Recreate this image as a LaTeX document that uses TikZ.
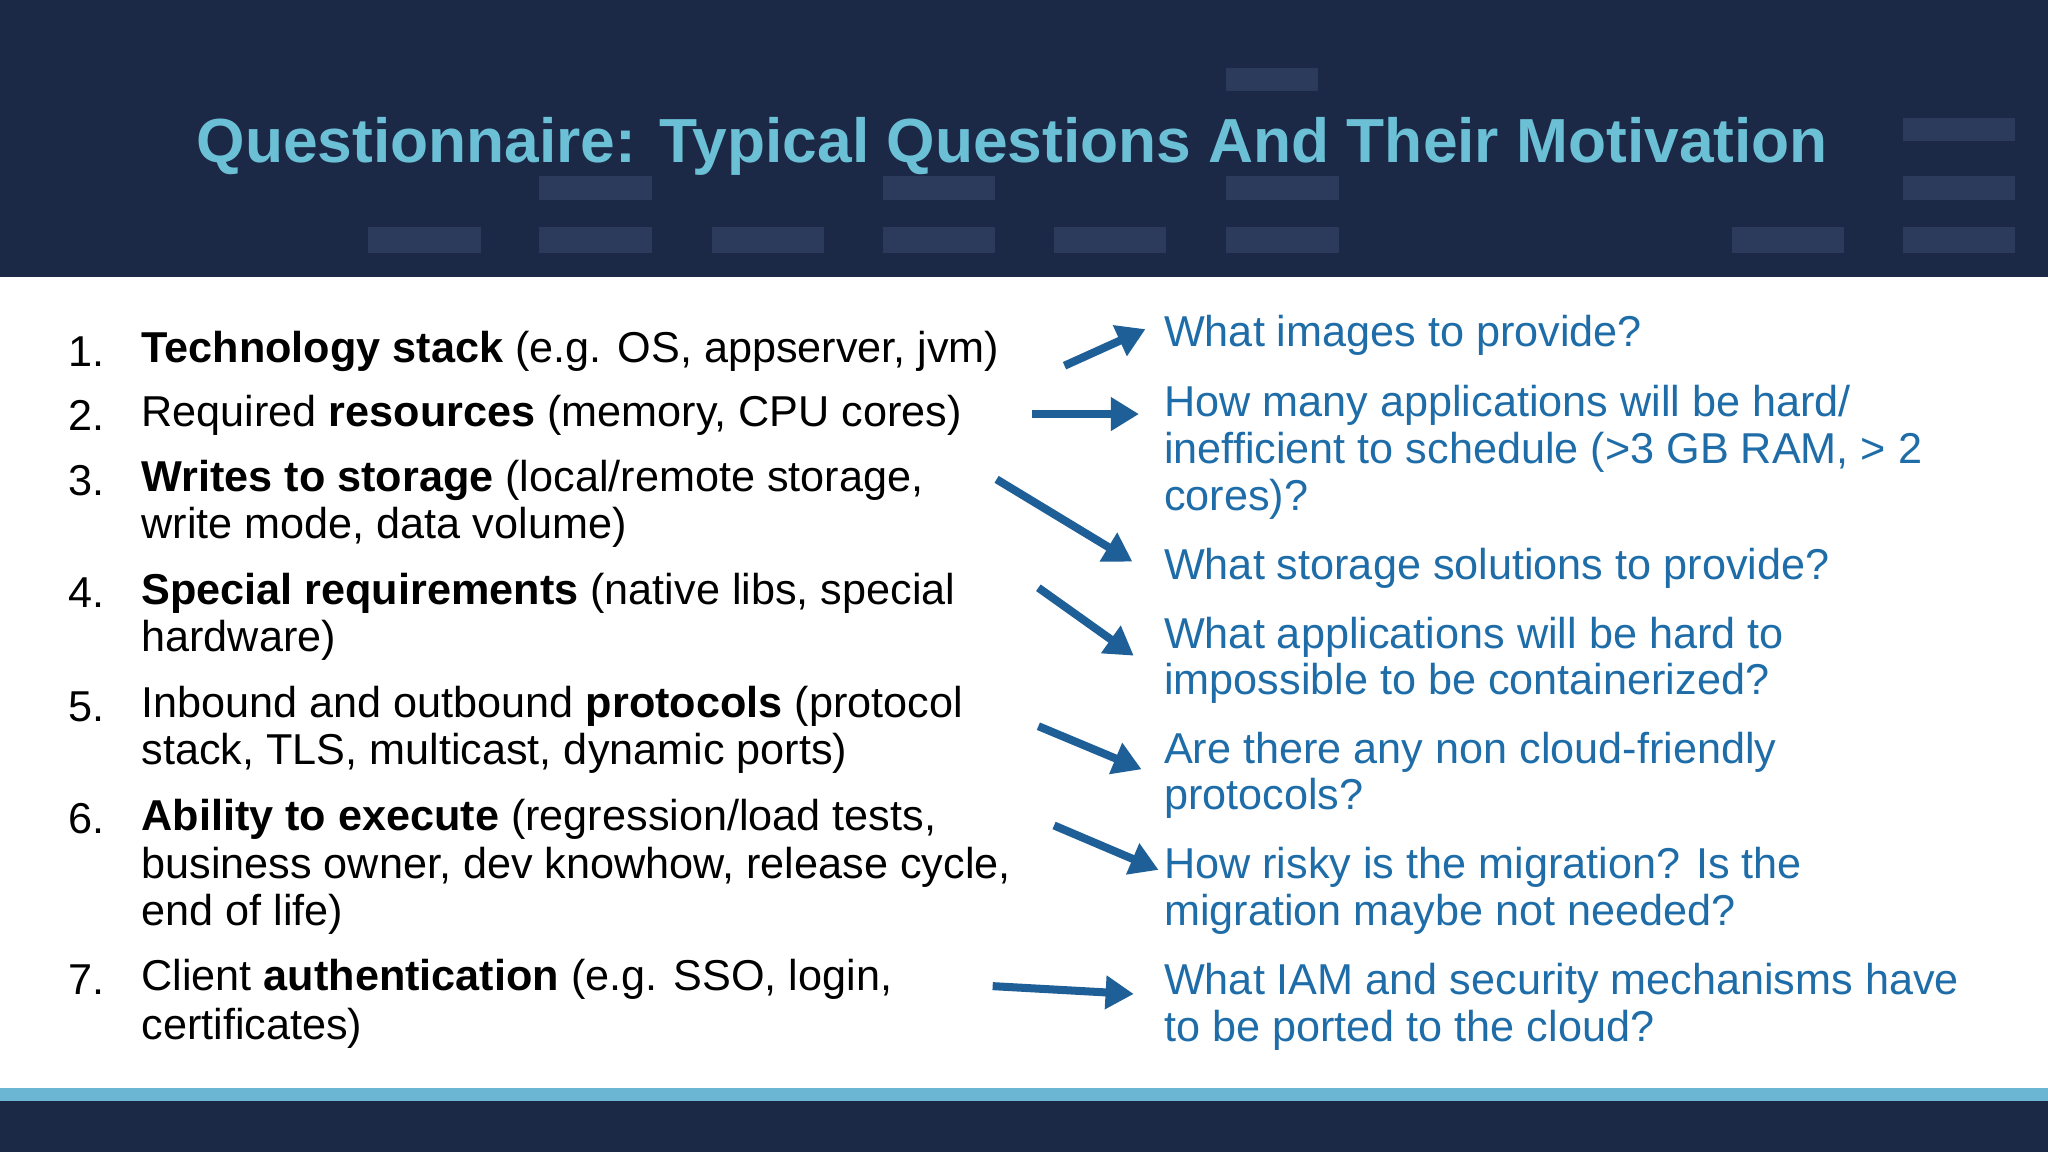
\documentclass[tikz,border=0pt]{standalone}
\usepackage{fontspec}
\setmainfont{Liberation Sans}
\usetikzlibrary{arrows.meta}
\definecolor{navy}{HTML}{1B2846}
\definecolor{navyl}{HTML}{2C3B5C}
\definecolor{ttl}{HTML}{6CC0D6}
\definecolor{band}{HTML}{6AB6D3}
\definecolor{rtxt}{HTML}{1F6DA8}
\definecolor{arr}{HTML}{1E5F98}
\begin{document}
\begin{tikzpicture}[x=0.65pt,y=-0.65pt,
  lt/.style={anchor=west,inner sep=0,font=\fontsize{21.5}{24}\selectfont,text=black},
  rt/.style={anchor=west,inner sep=0,font=\fontsize{21.5}{24}\selectfont,text=rtxt},
  ar/.style={draw=arr,line width=4pt,-{Triangle[length=14pt,width=16pt]}},
  deco/.style={fill=navyl,draw=none}]
\useasboundingbox (0,0) rectangle (1568,882);
\fill[white] (0,0) rectangle (1568,882);
\fill[navy] (0,0) rectangle (1568,212);
\foreach \x in {282,413,545,676,807,939,1326,1457}{\fill[deco] (\x,174) rectangle ++(86,20);}
\foreach \x in {413,676,939}{\fill[deco] (\x,135) rectangle ++(86,18);}
\foreach \x in {939}{\fill[deco] (\x,52) rectangle ++(70,18);}
\fill[deco] (1457,90) rectangle ++(86,18);
\fill[deco] (1457,135) rectangle ++(86,18);
\node[anchor=center,font=\fontsize{31}{34}\selectfont\bfseries,text=ttl] (title) at (775,112) {Questionnaire: Typical Questions And Their Motivation};
\fill[band] (0,833) rectangle (1568,843);
\fill[navy] (0,843) rectangle (1568,882);
% left
\foreach \n/\y in {1/269,2/318,3/368,4/454,5/541,6/627,7/750}{\node[lt] (n\n) at (52,\y) {\n.};}
\node[lt] (l1) at (108,269) {\textbf{Technology stack} (e.g. OS, appserver, jvm)};
\node[lt] (l2) at (108,318) {Required \textbf{resources} (memory, CPU cores)};
\node[lt] (l3a) at (108,368) {\textbf{Writes to storage} (local/remote storage,};
\node[lt] (l3b) at (108,404) {write mode, data volume)};
\node[lt] (l4a) at (108,454) {\textbf{Special requirements} (native libs, special};
\node[lt] (l4b) at (108,490) {hardware)};
\node[lt] (l5a) at (108,541) {Inbound and outbound \textbf{protocols} (protocol};
\node[lt] (l5b) at (108,577) {stack, TLS, multicast, dynamic ports)};
\node[lt] (l6a) at (108,627) {\textbf{Ability to execute} (regression/load tests,};
\node[lt] (l6b) at (108,664) {business owner, dev knowhow, release cycle,};
\node[lt] (l6c) at (108,700) {end of life)};
\node[lt] (l7a) at (108,750) {Client \textbf{authentication} (e.g. SSO, login,};
\node[lt] (l7b) at (108,787) {certificates)};
% right
\node[rt] (r1) at (891,257) {What images to provide?};
\node[rt] (r2a) at (891,310) {How many applications will be hard/};
\node[rt] (r2b) at (891,346) {inefficient to schedule (>3 GB RAM, > 2};
\node[rt] (r2c) at (891,382) {cores)?};
\node[rt] (r3) at (891,435) {What storage solutions to provide?};
\node[rt] (r4a) at (891,488) {What applications will be hard to};
\node[rt] (r4b) at (891,523) {impossible to be containerized?};
\node[rt] (r5a) at (891,576) {Are there any non cloud-friendly};
\node[rt] (r5b) at (891,611) {protocols?};
\node[rt] (r6a) at (891,664) {How risky is the migration? Is the};
\node[rt] (r6b) at (891,700) {migration maybe not needed?};
\node[rt] (r7a) at (891,753) {What IAM and security mechanisms have};
\node[rt] (r7b) at (891,789) {to be ported to the cloud?};
% arrows
\coordinate (s1) at (815,280); \coordinate (e1) at (877,252);
\coordinate (s2) at (790,317); \coordinate (e2) at (872,317);
\coordinate (s3) at (763,367); \coordinate (e3) at (867,430);
\coordinate (s4) at (795,450); \coordinate (e4) at (868,502);
\coordinate (s5) at (795,556); \coordinate (e5) at (874,589);
\coordinate (s6) at (807,632); \coordinate (e6) at (887,666);
\coordinate (s7) at (760,755); \coordinate (e7) at (868,761);
\foreach \i in {1,...,7}{\draw[ar] (s\i) -- (e\i);}
\end{tikzpicture}
\end{document}
